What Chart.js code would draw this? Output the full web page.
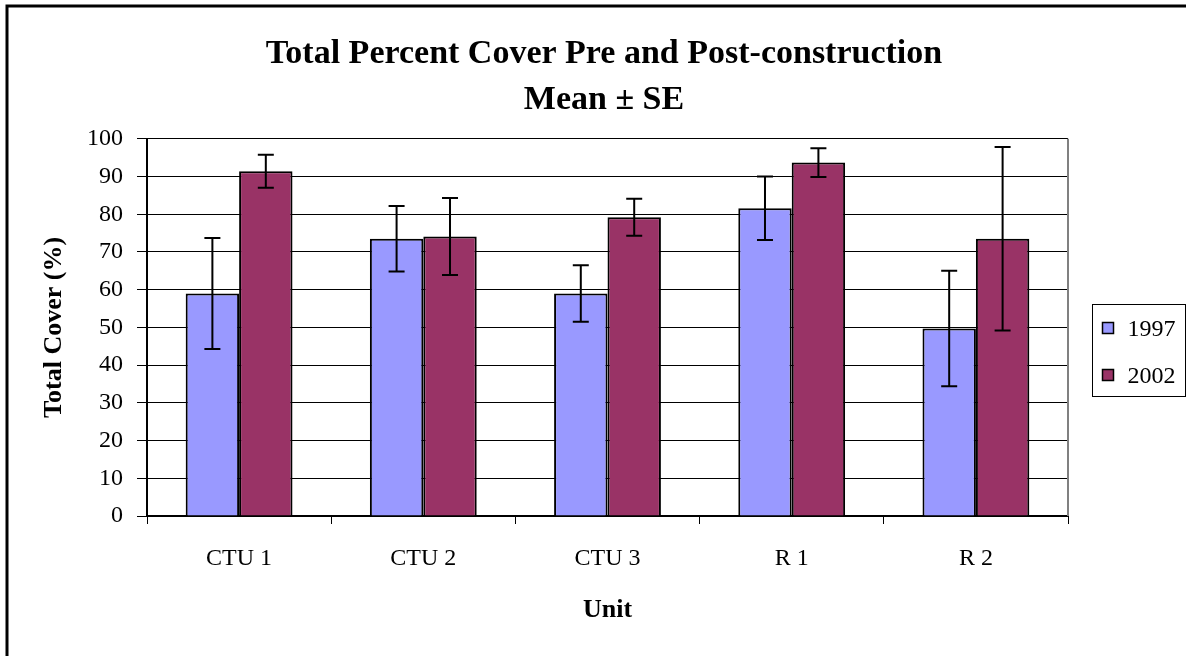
<!DOCTYPE html>
<html>
<head>
<meta charset="utf-8">
<script src="https://cdn.jsdelivr.net/npm/chart.js@4.4.1/dist/chart.umd.min.js"></script>
<style>
  html, body { margin: 0; padding: 0; background: #fff; }
  #wrap { width: 1186px; height: 656px; position: relative; }
</style>
</head>
<body>
<div id="wrap"><canvas id="cover"></canvas></div>
<script>
const units = ['CTU 1', 'CTU 2', 'CTU 3', 'R 1', 'R 2'];
const years = ['1997', '2002'];
const mean1997 = [59.0, 73.5, 59.0, 81.6, 49.7];
const mean2002 = [91.4, 74.1, 79.2, 93.7, 73.5];
const se1997 = [14.7, 8.7, 7.5, 8.4, 15.3];
const se2002 = [4.4, 10.2, 4.9, 3.8, 24.3];
const yTicks = [0, 10, 20, 30, 40, 50, 60, 70, 80, 90, 100];

const serif = "'Liberation Serif', 'Times New Roman', serif";
Chart.defaults.font.family = serif;
Chart.defaults.color = '#000';

// outer frame, right edge of plot area, legend box
const framePlugin = {
  id: 'frame',
  beforeDraw(chart) {
    const ctx = chart.ctx;
    ctx.save();
    ctx.fillStyle = '#fff';
    ctx.fillRect(0, 0, chart.width, chart.height);
    ctx.strokeStyle = '#000';
    ctx.lineWidth = 3;
    ctx.strokeRect(7, 6, 1400, 900);
    ctx.restore();
  },
  afterDraw(chart) {
    const ctx = chart.ctx;
    const area = chart.chartArea;
    ctx.save();
    ctx.strokeStyle = '#808080';
    ctx.lineWidth = 2;
    ctx.beginPath();
    ctx.moveTo(area.right, area.top);
    ctx.lineTo(area.right, area.bottom);
    ctx.stroke();

    // legend
    const bx = area.right + 24.5, by = 304.5, bw = 93, bh = 92;
    ctx.strokeStyle = '#000';
    ctx.lineWidth = 1;
    ctx.strokeRect(bx, by, bw, bh);
    ctx.font = '24px ' + serif;
    ctx.textBaseline = 'middle';
    ctx.fillStyle = '#000';
    chart.data.datasets.forEach((ds, i) => {
      const cy = by + 24 + i * 47;
      ctx.fillStyle = ds.backgroundColor;
      ctx.fillRect(bx + 10, cy - 6, 11, 11);
      ctx.strokeStyle = '#000';
      ctx.lineWidth = 1.5;
      ctx.strokeRect(bx + 10, cy - 6, 11, 11);
      ctx.fillStyle = '#000';
      ctx.fillText(ds.label, bx + 35, cy + 1);
    });
    ctx.restore();
  },
};

// error bars (mean ± SE)
const errorBarPlugin = {
  id: 'errorBars',
  afterDatasetsDraw(chart) {
    const ctx = chart.ctx;
    const y = chart.scales.y;
    ctx.save();
    ctx.strokeStyle = '#000';
    ctx.lineWidth = 2;
    chart.data.datasets.forEach((ds, i) => {
      const meta = chart.getDatasetMeta(i);
      meta.data.forEach((bar, j) => {
        const v = ds.data[j];
        const e = ds.errors[j];
        const top = y.getPixelForValue(v + e);
        const bot = y.getPixelForValue(v - e);
        const x = bar.x;
        ctx.beginPath();
        ctx.moveTo(x, top);
        ctx.lineTo(x, bot);
        ctx.moveTo(x - 8, top);
        ctx.lineTo(x + 8, top);
        ctx.moveTo(x - 8, bot);
        ctx.lineTo(x + 8, bot);
        ctx.stroke();
      });
    });
    ctx.restore();
  },
};

new Chart(document.getElementById('cover'), {
  type: 'bar',
  data: {
    labels: units,
    datasets: [
      {
        label: years[0],
        data: mean1997,
        errors: se1997,
        backgroundColor: '#9999FF',
        borderColor: '#000',
        borderWidth: 2,
        categoryPercentage: 0.58,
        barPercentage: 1,
      },
      {
        label: years[1],
        data: mean2002,
        errors: se2002,
        backgroundColor: '#993366',
        borderColor: '#000',
        borderWidth: 2,
        categoryPercentage: 0.58,
        barPercentage: 1,
      },
    ],
  },
  options: {
    responsive: true,
    maintainAspectRatio: false,
    animation: false,
    layout: { padding: { left: 22, right: 0, top: 0, bottom: 0 } },
    plugins: {
      legend: { display: false },
      tooltip: { enabled: false },
      title: {
        display: true,
        text: ['Total Percent Cover Pre and Post-construction', 'Mean ± SE'],
        color: '#000',
        font: { size: 34, weight: 'bold', family: serif, lineHeight: 1.35 },
        padding: { top: 31, bottom: 16 },
      },
    },
    scales: {
      x: {
        grid: {
          drawOnChartArea: false,
          drawTicks: true,
          tickLength: 8,
          color: '#000',
          offset: true,
        },
        border: { display: true, color: '#000', width: 2 },
        ticks: { font: { size: 24 }, padding: 20, color: '#000' },
        title: {
          display: true,
          text: 'Unit',
          color: '#000',
          font: { size: 26, weight: 'bold' },
          padding: { top: 0, bottom: 30 },
        },
        afterFit: (scale) => {
          scale.height = 140;
        },
      },
      y: {
        min: 0,
        max: 100,
        afterBuildTicks: (scale) => {
          scale.ticks = yTicks.map((v) => ({ value: v }));
        },
        grid: { color: '#000', lineWidth: 1, tickLength: 10 },
        border: { display: true, color: '#000', width: 2 },
        ticks: { font: { size: 24 }, padding: 14, color: '#000' },
        title: {
          display: true,
          text: 'Total Cover (%)',
          color: '#000',
          font: { size: 26, weight: 'bold' },
          padding: { top: 17, bottom: 0 },
        },
        afterFit: (scale) => {
          scale.width = 125;
        },
      },
      // empty right-hand space for the legend
      side: {
        type: 'linear',
        position: 'right',
        display: true,
        grid: { display: false },
        border: { display: false },
        ticks: { display: false },
        afterFit: (scale) => {
          scale.width = 118;
        },
      },
    },
  },
  plugins: [framePlugin, errorBarPlugin],
});
</script>
</body>
</html>
